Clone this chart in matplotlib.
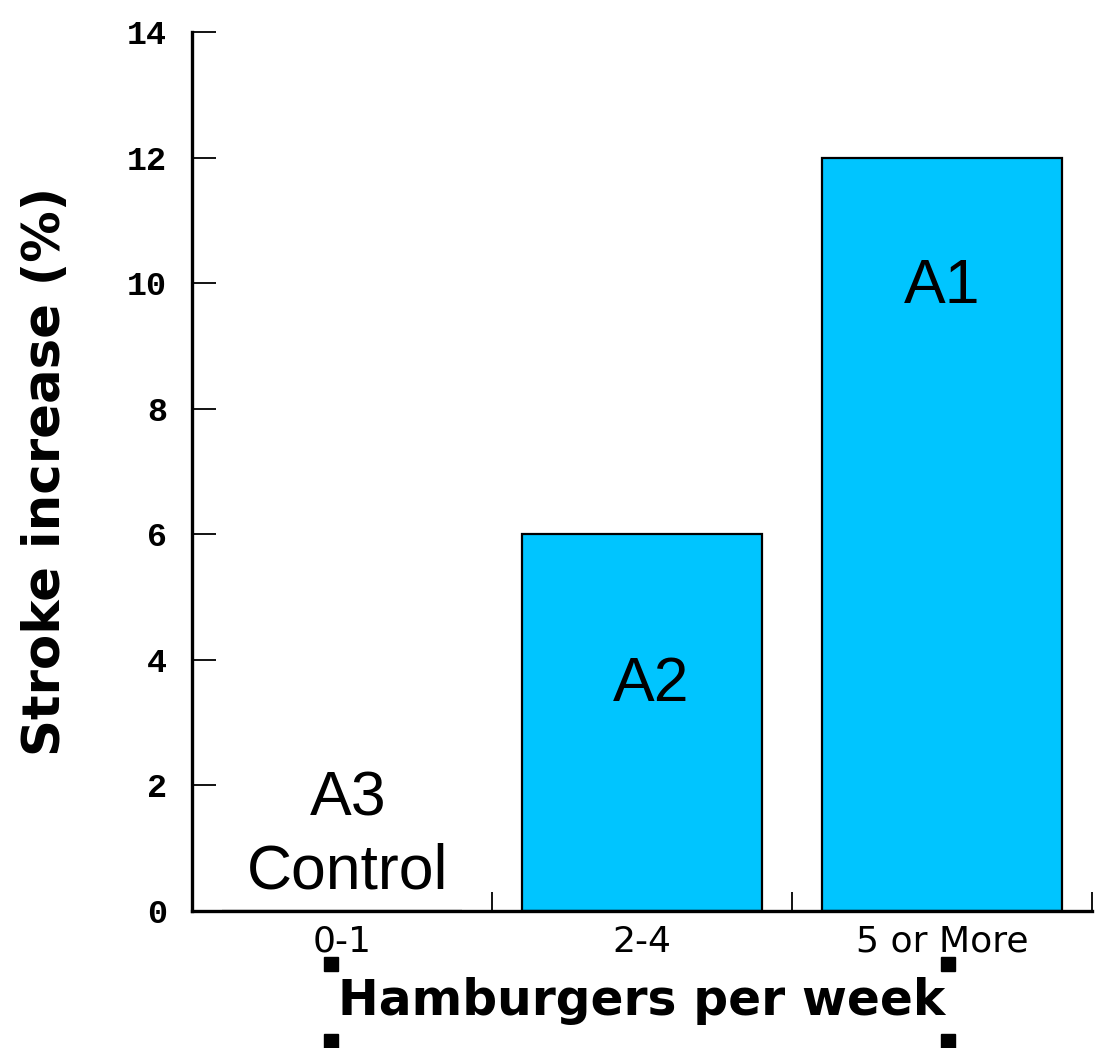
import matplotlib.pyplot as plt
import numpy as np

# burger intake groups vs stroke increase
groups = ['0-1', '2-4', '5 or More']
stroke_pct = [0, 6, 12]
bar_tags = ['A3\nControl', 'A2', 'A1']
tag_x = [0.02, 1.03, 2.0]
tag_y = [1.2, 3.6, 9.95]

BLUE = '#00C5FF'

fig = plt.figure(figsize=(10.96, 10.48), dpi=100)
ax = fig.add_axes([192 / 1096, 1 - 911 / 1048, 900 / 1096, 879 / 1048])

x = np.arange(len(groups))
ax.bar(x, stroke_pct, width=0.8, color=BLUE, edgecolor='black', linewidth=1.6, zorder=2)
for tx, tag, ty in zip(tag_x, bar_tags, tag_y):
   ax.text(tx, ty, tag, ha='center', va='center', fontsize=45,
           family='Liberation Sans', linespacing=1.3, zorder=3)

ax.set_xlim(-0.5, 2.5)
ax.set_ylim(0, 14)
ax.set_yticks(np.arange(0, 15, 2))
ax.set_yticklabels([str(v) for v in range(0, 15, 2)], family='Liberation Mono',
                   fontweight='bold', fontsize=24)

# boundary ticks between groups, labels centred under bars
ax.set_xticks([0.5, 1.5, 2.5])
ax.set_xticklabels([])
ax.set_xticks(x, minor=True)
ax.set_xticklabels(groups, minor=True, fontsize=26)
ax.tick_params(axis='x', which='minor', length=0, pad=10)
ax.tick_params(axis='x', which='major', direction='in', length=14, width=1.3)
ax.tick_params(axis='y', direction='in', length=17, width=1.3, pad=18)

for side in ['top', 'right']:
   ax.spines[side].set_visible(False)
for side in ['left', 'bottom']:
   ax.spines[side].set_linewidth(2.4)

ax.set_ylabel('Stroke increase (%)', fontsize=37, fontweight='bold', labelpad=40)
ax.set_xlabel('Hamburgers per week', fontsize=35, fontweight='bold', labelpad=13)

# selection handles around the x label
for hx in [331 / 1096, 948 / 1096]:
   for hy in [1 - 964 / 1048, 1 - 1041 / 1048]:
      fig.add_artist(plt.Rectangle((hx - 7 / 1096, hy - 7 / 1048), 14 / 1096, 14 / 1048,
                                   transform=fig.transFigure, color='black'))

fig.savefig('out.png', dpi=100)
